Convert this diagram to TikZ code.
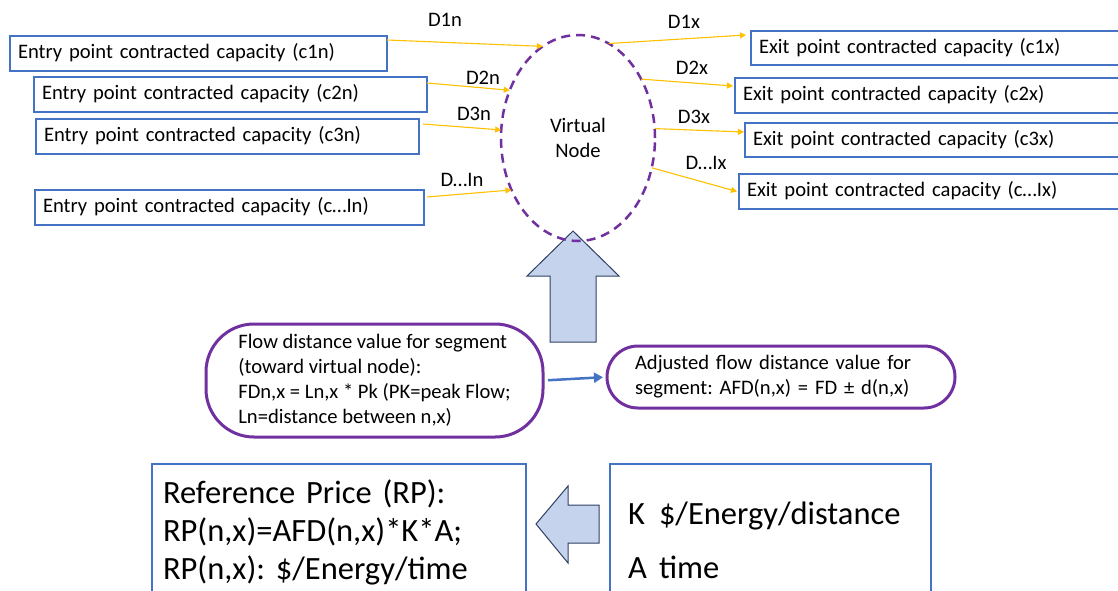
\documentclass[tikz,border=0pt]{standalone}
\usepackage{fontspec}
\setmainfont{Carlito}
\usetikzlibrary{shapes.geometric,arrows.meta}
\definecolor{boxblue}{HTML}{4472C4}
\definecolor{flowgold}{HTML}{FFC000}
\definecolor{vpurple}{HTML}{7030A0}
\definecolor{blockfill}{HTML}{C5D4EC}
\definecolor{blockline}{HTML}{2F3F64}
\newcommand{\labelfont}{\fontsize{20.6}{25}\selectfont}
\begin{document}
\frenchspacing
\begin{tikzpicture}[x=1pt,y=-1pt,
  pointbox/.style={draw=boxblue, line width=2pt, anchor=north west, inner xsep=8pt, inner ysep=0pt,
    outer sep=0pt, font=\labelfont, align=left, text height=14pt, text depth=4pt,
    minimum height=35pt},
  dlabel/.style={font=\labelfont, inner sep=0pt},
  flowline/.style={draw=flowgold, line width=1.1pt, -{Triangle[length=6pt,width=6pt]}},
  pillbox/.style={draw=vpurple, line width=3pt, anchor=north west, inner sep=0pt, outer sep=0pt,
    font=\labelfont, align=left},
  pricebox/.style={draw=boxblue, line width=1.6pt, anchor=north west, inner ysep=0pt, outer sep=0pt,
    font=\fontsize{32.5}{38}\selectfont, align=left},
  blockarrow/.style={fill=blockfill, draw=blockline, line width=1pt, line join=miter}
]
\useasboundingbox (0,0) rectangle (1118,590);

% entry points
\node[pointbox, text width=361pt] (c1n) at (10,36) {Entry point contracted capacity (c1n)};
\node[pointbox, text width=377pt] (c2n) at (34,77) {Entry point contracted capacity (c2n)};
\node[pointbox, text width=367pt] (c3n) at (36,119) {Entry point contracted capacity (c3n)};
\node[pointbox, text width=373pt] (cIn) at (35,190) {Entry point contracted capacity (c…In)};

% exit points
\node[pointbox, text width=358pt, minimum height=34pt] (c1x) at (751,31) {Exit point contracted capacity (c1x)};
\node[pointbox, text width=374pt] (c2x) at (735,78) {Exit point contracted capacity (c2x)};
\node[pointbox, text width=364pt, minimum height=34pt] (c3x) at (745,123) {Exit point contracted capacity (c3x)};
\node[pointbox, text width=370pt] (cIx) at (739,174) {Exit point contracted capacity (c…Ix)};

% block arrow pushing the flow values up to the virtual node
\filldraw[blockarrow] (573,231) -- (619,276) -- (596,276) -- (596,342) -- (550,342) -- (550,276) -- (527,276) -- cycle;

% virtual node
\node[ellipse, draw=vpurple, line width=2.5pt, dash pattern=on 9pt off 6pt, minimum width=154pt,
  minimum height=206pt, inner sep=0pt, outer sep=0pt, align=center,
  font=\labelfont] (vn) at (578,138) {Virtual\\Node};

% flows into the virtual node
\draw[flowline] ([yshift=-4pt]c1n.north east) -- (vn.111.7);
\draw[flowline] ([yshift=-6pt]c2n.north east) -- (vn.145.9);
\draw[flowline] ([xshift=4pt,yshift=-5pt]c3n.north east) -- (vn.174.7);
\draw[flowline] ([xshift=3pt,yshift=-7pt]cIn.north east) -- (vn.218.8);

% flows out of the virtual node
\draw[flowline] (vn.72.5) -- ([xshift=-5pt,yshift=-4pt]c1x.north west);
\draw[flowline] (vn.43.1) -- ([xshift=-2pt,yshift=-8pt]c2x.north west);
\draw[flowline] (vn.7.6) -- ([xshift=-1pt,yshift=-9pt]c3x.north west);
\draw[flowline] (vn.-22) -- ([xshift=-2pt]cIx.west);

% distance labels
\node[dlabel] (l1n) at (445,20) {D1n};
\node[dlabel] (l2n) at (483,78) {D2n};
\node[dlabel] (l3n) at (474,114) {D3n};
\node[dlabel] (lIn) at (462,180) {D…In};
\node[dlabel] (l1x) at (684,22) {D1x};
\node[dlabel] (l2x) at (692,68) {D2x};
\node[dlabel] (l3x) at (694,117) {D3x};
\node[dlabel] (lIx) at (706,163) {D…Ix};

% flow distance and its adjusted value
\node[pillbox, rounded corners=48pt, minimum width=337pt, minimum height=113pt] (flow) at (206,324)
  {Flow distance value for segment\\(toward virtual node):\\FDn,x = Ln,x * Pk (PK=peak Flow;\\Ln=distance between n,x)};
\node[pillbox, rounded corners=31pt, minimum width=348pt, minimum height=62pt, text width=292pt] (adj) at (607,346)
  {Adjusted flow distance value for\\segment: AFD(n,x) = FD ± d(n,x)};
\draw[draw=boxblue, line width=2.5pt, -{Triangle[length=9pt,width=10pt]}, shorten <=5pt, shorten >=4pt]
  (flow.east) -- (adj.west);

% reference price and its factors
\node[pricebox, inner xsep=11pt, text width=352pt, minimum height=136pt] (rp) at (152,464)
  {Reference Price (RP):\\RP(n,x)=AFD(n,x)*K*A;\\RP(n,x): \$/Energy/time};
\node[pricebox, inner xsep=18pt, text width=285pt, minimum height=152pt, font=\fontsize{32.5}{54}\selectfont] (ka) at (610,464)
  {\makebox[31pt][l]{K}\$/Energy/distance\\\makebox[31pt][l]{A}time};
\filldraw[blockarrow] (536,524) -- (568,486) -- (568,505) -- (599,505) -- (599,543) -- (568,543) -- (568,563) -- cycle;
\end{tikzpicture}
\end{document}
